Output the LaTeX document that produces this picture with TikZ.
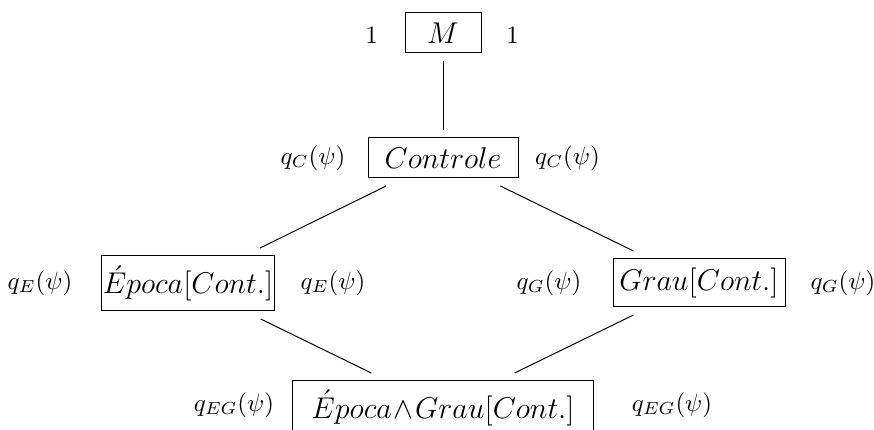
\documentclass[tikz,border=0pt]{standalone}
\begin{document}
\begin{tikzpicture}[x=0.4pt,y=-0.4pt,
  box/.style={draw, line width=0.4pt, inner sep=0pt, outer sep=3.2pt, font=\large},
  lbl/.style={inner sep=0pt}]
\useasboundingbox (0,0) rectangle (874,430);
\clip (0,0) rectangle (874,430);
% boxes
\node[box, minimum width=30.4pt, minimum height=16pt] (m) at (443,33) {$M$};
\node[box, minimum width=60pt, minimum height=16pt] (ctrl) at (443,158) {$Controle$};
\node[box, minimum width=69pt, minimum height=22pt] (ep) at (188,283.5) {$\acute{E}poca[Cont.]$};
\node[box, minimum width=68.8pt, minimum height=19.2pt] (gr) at (699,283) {$Grau[Cont.]$};
\node[box, minimum width=120.6pt, minimum height=21.6pt] (eg) at (443,408) {$\acute{E}poca\mskip1mu{\wedge}\mskip1mu Grau[Cont.]$};
% labels
\node[lbl] (m1) at (371.5,35) {$1$};
\node[lbl] (m2) at (512.5,35) {$1$};
\node[lbl] (c1) at (313,158) {$q_C(\psi)$};
\node[lbl] (c2) at (567.5,158) {$q_C(\psi)$};
\node[lbl] (e1) at (40,283) {$q_E(\psi)$};
\node[lbl] (e2) at (333,283) {$q_E(\psi)$};
\node[lbl] (g1) at (549,283) {$q_G(\psi)$};
\node[lbl] (g2) at (843,283) {$q_G(\psi)$};
\node[lbl] (eg1) at (234,405) {$q_{EG}(\psi)$};
\node[lbl] (eg2) at (672,405) {$q_{EG}(\psi)$};
% connectors
\draw (m) -- (ctrl);
\draw (ctrl) -- (ep);
\draw (ctrl) -- (gr);
\draw (ep) -- (eg);
\draw (gr) -- (eg);
\end{tikzpicture}
\end{document}
